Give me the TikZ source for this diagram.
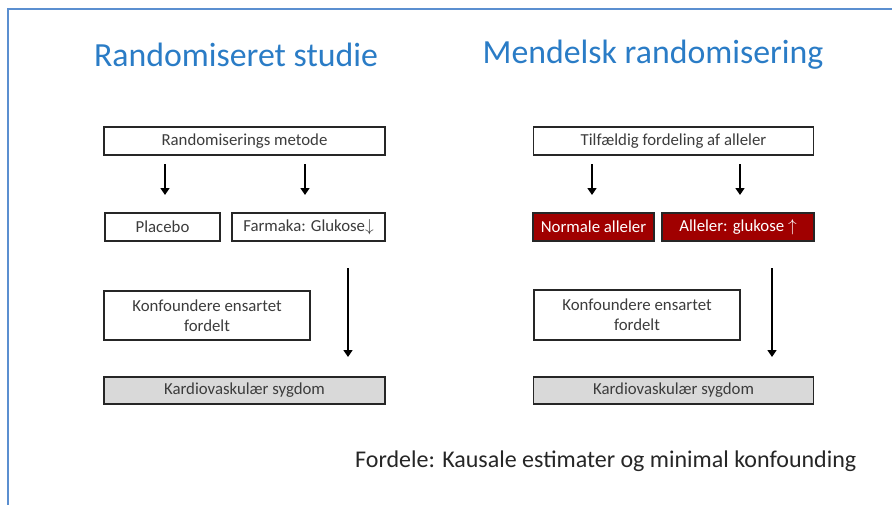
\documentclass[tikz,border=0pt]{standalone}
\usepackage{fontspec}
\setmainfont{Carlito}
\usetikzlibrary{arrows.meta}
\definecolor{ttl}{HTML}{2A7CC6}
\definecolor{frm}{HTML}{5B8FD0}
\definecolor{dred}{HTML}{A00000}
\definecolor{txt}{HTML}{3C3C3C}
\definecolor{gry}{HTML}{D9D9D9}
\tikzset{
  box/.style={draw=black!85, line width=1.2pt, inner sep=0pt, text=txt, font=\fontsize{16.8}{20}\selectfont, align=center},
  redbox/.style={box, fill=dred, text=white},
  graybox/.style={box, fill=gry},
  arr/.style={line width=1.6pt, -{Triangle[length=7pt,width=9pt]}},
  title/.style={text=ttl, font=\fontsize{33.8}{38}\selectfont, inner sep=0pt}
}
\begin{document}
\begin{tikzpicture}[x=1pt,y=-1pt]
\useasboundingbox (0,0) rectangle (892,504);
\fill[white] (0,0) rectangle (892,504);
\draw[frm, line width=1.4pt] (8,505) -- (8,9) -- (893,9);
% titles
\node[title] (t1) at (236,55) {Randomiseret studie};
\node[title] (t2) at (653,55) {Mendelsk randomisering};
% left column
\node[box, minimum width=281, minimum height=28] (rm) at (244.5,141) {Randomiserings metode};
\node[box, minimum width=115, minimum height=28] (pl) at (162.5,227) {Placebo};
\node[box, minimum width=153, minimum height=28] (fa) at (308.5,227) {Farmaka: Glukose$\downarrow$};
\node[box, minimum width=206, minimum height=49] (k1) at (207,315.5) {Konfoundere ensartet\\fordelt};
\node[graybox, minimum width=281, minimum height=27] (kv1) at (244.5,390.5) {Kardiovaskulær sygdom};
\coordinate (a1s) at (165,164); \coordinate (a1e) at (165,195);
\coordinate (a2s) at (305,164); \coordinate (a2e) at (305,195);
\coordinate (a3s) at (348,268); \coordinate (a3e) at (348,357);
\draw[arr] (a1s) -- (a1e);
\draw[arr] (a2s) -- (a2e);
\draw[arr] (a3s) -- (a3e);
% right column
\node[box, minimum width=280, minimum height=28] (tf) at (673.5,141) {Tilfældig fordeling af alleler};
\node[redbox, minimum width=121, minimum height=28] (na) at (593.5,227) {Normale alleler};
\node[redbox, minimum width=152, minimum height=28] (ag) at (738,227) {Alleler: glukose $\uparrow$};
\node[box, minimum width=206, minimum height=50] (k2) at (637,315) {Konfoundere ensartet\\fordelt};
\node[graybox, minimum width=280, minimum height=27] (kv2) at (673.5,390.5) {Kardiovaskulær sygdom};
\coordinate (b1s) at (592,164); \coordinate (b1e) at (592,195);
\coordinate (b2s) at (740,164); \coordinate (b2e) at (740,195);
\coordinate (b3s) at (772,268); \coordinate (b3e) at (772,357);
\draw[arr] (b1s) -- (b1e);
\draw[arr] (b2s) -- (b2e);
\draw[arr] (b3s) -- (b3e);
% bottom text
\node[anchor=west, inner sep=0pt, text=black!85, font=\fontsize{24}{28}\selectfont] (fd) at (355,461) {Fordele: Kausale estimater og minimal konfounding};
\end{tikzpicture}
\end{document}
